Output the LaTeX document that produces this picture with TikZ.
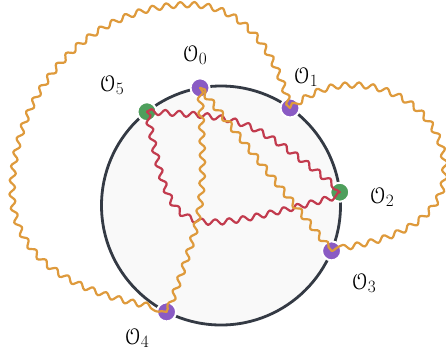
\documentclass[tikz,border=0pt]{standalone}
\usepackage[mathcal]{eucal}
\usetikzlibrary{decorations.pathmorphing,calc}
\definecolor{ringc}{HTML}{343A44}
\definecolor{diskc}{HTML}{F9F9F9}
\definecolor{purp}{HTML}{8A5BC4}
\definecolor{grn}{HTML}{4E9F5C}
\definecolor{orng}{HTML}{DE9A3C}
\definecolor{redc}{HTML}{C23B4E}
\tikzset{
  wave/.style={decorate, decoration={snake, amplitude=2.8pt, segment length=14pt}, line width=2.2pt, line cap=round, line join=round},
  owave/.style={wave, draw=orng},
  rwave/.style={wave, draw=redc},
  opdot/.style={circle, minimum size=19pt, inner sep=0pt, draw=white, line width=2pt},
  lbl/.style={font=\fontsize{23}{26}\selectfont},
}
\begin{document}
\begin{tikzpicture}[x=1pt,y=-1pt]
  \useasboundingbox (0,0) rectangle (446,354);
  % boundary circle
  \coordinate (c) at (221,205.5);
  \draw[ringc, fill=diskc, line width=2.8pt] (c) circle[radius=119.5pt];
  % insertion points on the boundary
  \node[opdot, fill=purp] (o0) at ($(c)+(100.1:119.5pt)$) {};
  \node[opdot, fill=purp] (o1) at ($(c)+(54.7:119.5pt)$) {};
  \node[opdot, fill=grn]  (o2) at ($(c)+(6.4:119.5pt)$) {};
  \node[opdot, fill=purp] (o3) at ($(c)+(-22.3:119.5pt)$) {};
  \node[opdot, fill=purp] (o4) at ($(c)+(-117.1:119.5pt)$) {};
  \node[opdot, fill=grn]  (o5) at ($(c)+(128.3:119.5pt)$) {};
  % labels
  \node[lbl] (l0) at (195,55) {$\mathcal{O}_0$};
  \node[lbl] (l1) at (306,77) {$\mathcal{O}_1$};
  \node[lbl] (l2) at (382,197) {$\mathcal{O}_2$};
  \node[lbl] (l3) at (364,283) {$\mathcal{O}_3$};
  \node[lbl] (l4) at (137,338) {$\mathcal{O}_4$};
  \node[lbl] (l5) at (112,85) {$\mathcal{O}_5$};
  % red propagators
  \draw[rwave] (o5.center) .. controls (245,117) .. (o2.center);
  \draw[rwave] (o5.center) .. controls (172,236) .. (o2.center);
  % orange propagators inside the disk
  \draw[owave] (o0.center) .. controls (205,205) .. (o4.center);
  \draw[owave] (o0.center) -- (o3.center);
  % orange propagators outside the disk
  \draw[owave] (o1.center) to[out=105,in=0] (190,8) to[out=180,in=90] (13,195) to[out=-90,in=172] (o4.center);
  \draw[owave] (o1.center) to[out=35,in=180] (350,87) to[out=0,in=90] (442,172) to[out=-90,in=7] (o3.center);
\end{tikzpicture}
\end{document}
